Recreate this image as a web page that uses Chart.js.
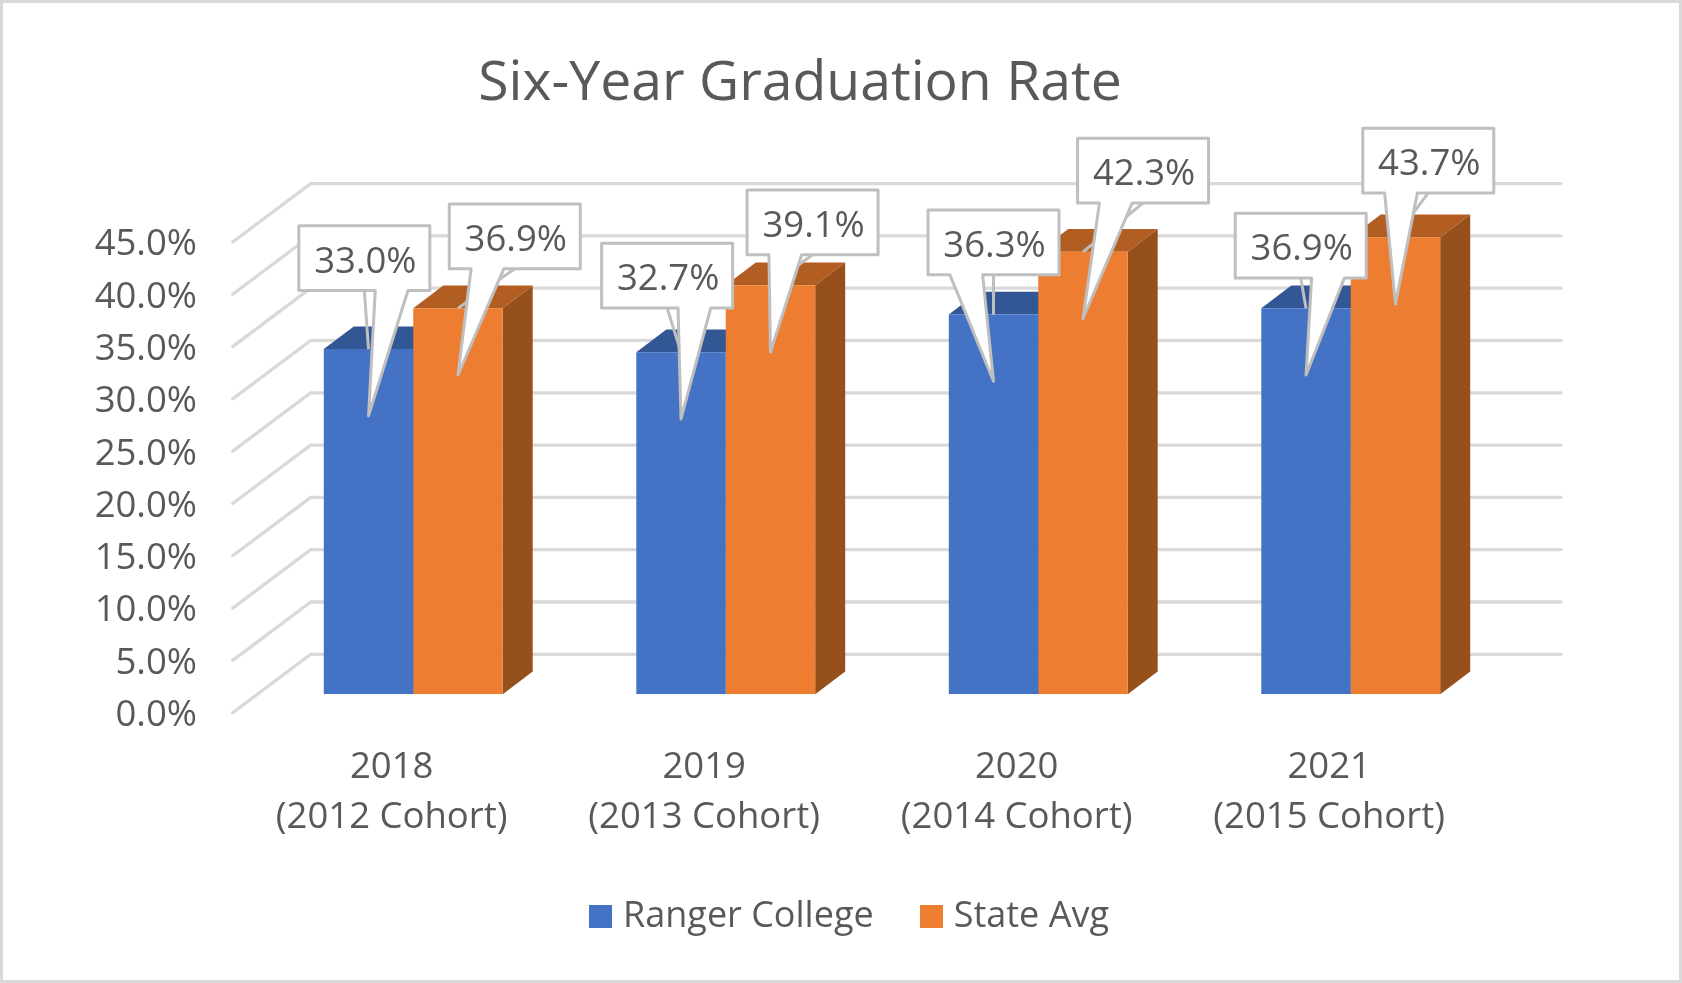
<!DOCTYPE html>
<html>
<head>
<meta charset="utf-8">
<script src="https://cdn.jsdelivr.net/npm/chart.js@4"></script>
<style>html,body{margin:0;padding:0;background:#fff}canvas{display:block}</style>
</head>
<body>
<canvas id="c" width="1682" height="983"></canvas>
<script>
const categories = [['2018','(2012 Cohort)'],['2019','(2013 Cohort)'],['2020','(2014 Cohort)'],['2021','(2015 Cohort)']];
const rangerCollege = [33.0, 32.7, 36.3, 36.9];
const stateAvg = [36.9, 39.1, 42.3, 43.7];
const titleText = 'Six-Year Graduation Rate';

// Styling / layout only (callout box corner relative to bar-top centre)
const calloutOffsets = [
  [[-69.7,-123.3],[-79.4,-109],[-65.5,-104.6],[-70.8,-95]],
  [[-8.7,-104.3],[-23.4,-95.3],[-5.4,-113.5],[-32.7,-108.9]]
];
const FONT = '"Open Sans"';
const TXT = '#595959', GRID = '#d9d9d9', CALL = '#bfbfbf';
const BLUE = '#4472c4', ORANGE = '#ed7d31';
const BAR_DEPTH = [30, -22.7], WALL_BACK = [53.7, -40], WALL_FRONT = [-24.3, 18.4];
const WALL_RIGHT = 1561;
const BOX_W = 131, BOX_H = 64.7, TIP_DROP = 66.7;
const PAD_BOTTOM = 38.5;
const faces = [{top:'#335695',side:'#2f5290'},{top:'#b25d22',side:'#96501c'}];

function swatch(color) {
  const s = document.createElement('canvas');
  s.width = 23; s.height = 23;
  const g = s.getContext('2d');
  g.fillStyle = color; g.fillRect(0,0,23,23);
  return s;
}

const scene = {
  id: 'scene',
  afterLayout(chart) {
    const t = chart.titleBlock; t.left = 0; t.right = 1600;
    const l = chart.legend; l.left = 0; l.right = 1705;
  },
  beforeDraw(chart) {
    const c = chart.ctx;
    c.save();
    c.fillStyle = '#fff'; c.fillRect(0,0,chart.width,chart.height);
    c.strokeStyle = GRID; c.lineWidth = 3;
    c.strokeRect(1.5,1.5,chart.width-3,chart.height-3);
    c.restore();
  },
  beforeDatasetsDraw(chart) {
    const c = chart.ctx, y = chart.scales.y, a = chart.chartArea;
    c.save();
    c.strokeStyle = GRID; c.lineWidth = 3.3; c.lineJoin = 'round'; c.lineCap = 'round';
    y.ticks.forEach(t => {
      const p = y.getPixelForValue(t.value);
      const bx = a.left + WALL_BACK[0], by = p + WALL_BACK[1];
      c.beginPath();
      c.moveTo(a.left + WALL_FRONT[0], p + WALL_FRONT[1]);
      c.lineTo(bx, by);
      c.lineTo(WALL_RIGHT, by);
      c.stroke();
    });
    [0,1].forEach(d => {
      chart.getDatasetMeta(d).data.forEach(b => {
        const l = b.x - b.width/2, r = b.x + b.width/2, [dx,dy] = BAR_DEPTH;
        c.fillStyle = faces[d].side;
        c.beginPath(); c.moveTo(r,b.y); c.lineTo(r+dx,b.y+dy); c.lineTo(r+dx,b.base+dy); c.lineTo(r,b.base); c.closePath(); c.fill();
        c.fillStyle = faces[d].top;
        c.beginPath(); c.moveTo(l,b.y); c.lineTo(l+dx,b.y+dy); c.lineTo(r+dx,b.y+dy); c.lineTo(r,b.y); c.closePath(); c.fill();
      });
    });
    c.restore();
  },
  afterDatasetsDraw(chart) {
    const c = chart.ctx;
    c.save();
    c.strokeStyle = CALL; c.lineWidth = 3; c.lineJoin = 'round';
    const items = [];
    [0,1].forEach(d => {
      chart.getDatasetMeta(d).data.forEach((b,i) => {
        const o = calloutOffsets[d][i];
        items.push({b, x:b.x+o[0], y:b.y+o[1], v:chart.data.datasets[d].data[i]});
      });
    });
    items.forEach(k => {
      c.beginPath(); c.moveTo(k.b.x,k.b.y); c.lineTo(k.x+BOX_W/2,k.y+BOX_H); c.stroke();
    });
    items.forEach(k => {
      const tx = k.b.x, ty = k.b.y + TIP_DROP, right = tx > k.x + BOX_W/2;
      const s = k.x + BOX_W*(right?7:2)/12, e = k.x + BOX_W*(right?10:5)/12;
      c.fillStyle = '#fff';
      c.beginPath();
      c.moveTo(k.x,k.y); c.lineTo(k.x+BOX_W,k.y); c.lineTo(k.x+BOX_W,k.y+BOX_H);
      c.lineTo(e,k.y+BOX_H); c.lineTo(tx,ty); c.lineTo(s,k.y+BOX_H); c.lineTo(k.x,k.y+BOX_H);
      c.closePath(); c.fill(); c.stroke();
      c.fillStyle = TXT; c.font = '36.5px '+FONT; c.textAlign='center'; c.textBaseline='middle';
      c.fillText(k.v.toFixed(1)+'%', k.x+BOX_W/2+1, k.y+BOX_H/2+4);
    });
    c.restore();
  }
};

new Chart(document.getElementById('c'), {
  type: 'bar',
  data: {
    labels: categories,
    datasets: [
      {label:'Ranger College', data:rangerCollege, backgroundColor:BLUE, borderWidth:0, categoryPercentage:0.5725, barPercentage:1},
      {label:'State Avg', data:stateAvg, backgroundColor:ORANGE, borderWidth:0, categoryPercentage:0.5725, barPercentage:1}
    ]
  },
  options: {
    responsive:false, animation:false, devicePixelRatio:1,
    layout:{padding:{left:0,right:175,top:0,bottom:PAD_BOTTOM}},
    plugins:{
      tooltip:{enabled:false},
      title:{display:true,text:titleText,color:TXT,font:{family:FONT,size:55.3,weight:'normal',lineHeight:1.2},padding:{top:51,bottom:106.2}},
      legend:{position:'bottom',labels:{
        color:TXT,font:{family:FONT,size:36,lineHeight:1},
        usePointStyle:true,pointStyleWidth:9,boxWidth:23,boxHeight:23,padding:53,
        generateLabels(chart){
          const items = Chart.defaults.plugins.legend.labels.generateLabels(chart);
          items.forEach((it,i)=>{ it.pointStyle = swatch(i===0?BLUE:ORANGE); });
          return items;
        }
      }}
    },
    scales:{
      x:{
        grid:{display:false}, border:{display:false},
        ticks:{color:TXT,font:{family:FONT,size:36.5,lineHeight:1.38},padding:40,labelOffset:-21.6,maxRotation:0,minRotation:0,autoSkip:false},
        afterFit(s){ s.height = 983 - PAD_BOTTOM - s.chart.legend.height - 694.3; }
      },
      y:{
        min:0,max:45,
        grid:{display:false}, border:{display:false},
        ticks:{color:TXT,font:{family:FONT,size:36.5,lineHeight:1.17},padding:52,stepSize:5,autoSkip:false,callback:v=>['',v.toFixed(1)+'%']},
        afterFit(s){ s.width = 257; }
      }
    }
  },
  plugins:[scene]
});
</script>
</body>
</html>
